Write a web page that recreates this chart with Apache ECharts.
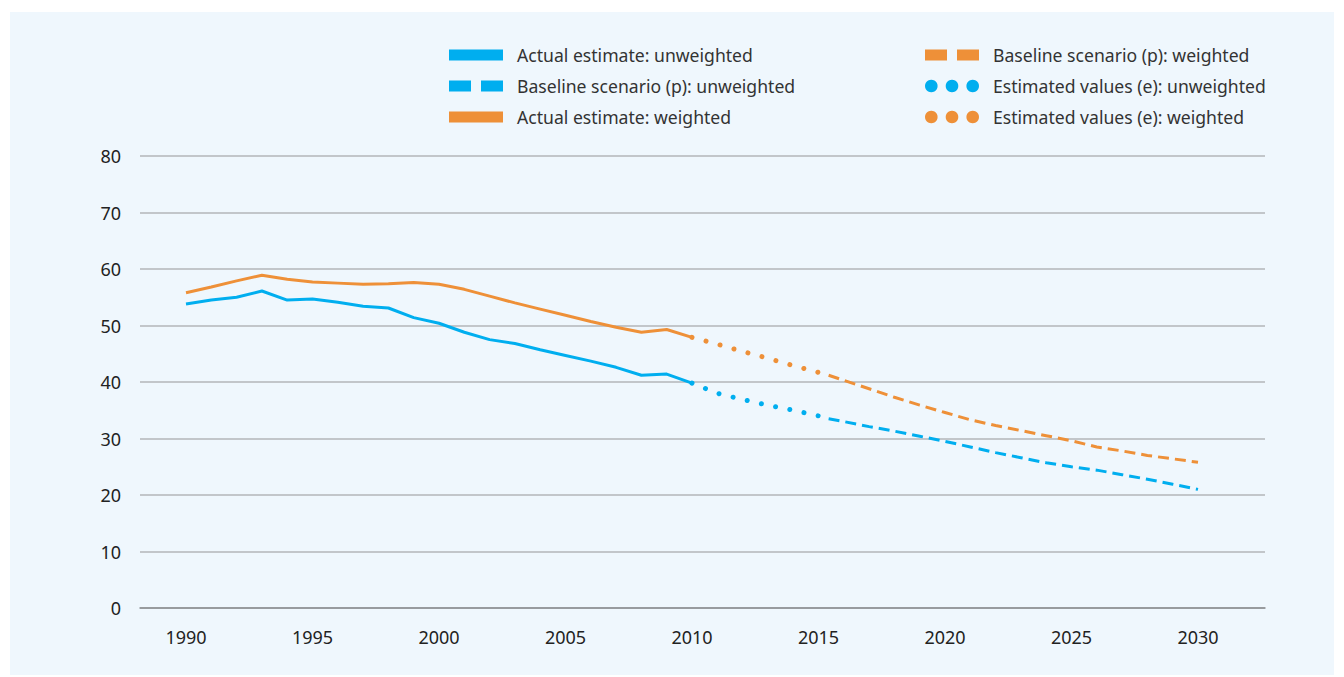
<!DOCTYPE html>
<html>
<head>
<meta charset="utf-8">
<title>Actual and baseline estimates</title>
<script src="https://cdn.jsdelivr.net/npm/echarts@6/dist/echarts.min.js"></script>
<style>
  html, body { margin: 0; padding: 0; background: #ffffff; }
  #panel { position: absolute; left: 10px; top: 12px; width: 1324px; height: 663px; background: #eff7fd; }
  #chart { position: absolute; left: 0; top: 0; width: 1344px; height: 677px; }
</style>
</head>
<body>
<div id="panel"></div>
<div id="chart"></div>
<script>
  // actual estimates 1990-2010
  const actualYears = [1990, 1991, 1992, 1993, 1994, 1995, 1996, 1997, 1998, 1999, 2000,
    2001, 2002, 2003, 2004, 2005, 2006, 2007, 2008, 2009, 2010];
  const actualUnweighted = [53.8, 54.5, 55.0, 56.1, 54.5, 54.7, 54.1, 53.4, 53.1, 51.4, 50.4,
    48.8, 47.5, 46.8, 45.7, 44.7, 43.7, 42.6, 41.2, 41.4, 39.8];
  const actualWeighted = [55.8, 56.8, 57.9, 58.9, 58.2, 57.7, 57.5, 57.3, 57.4, 57.6, 57.3,
    56.4, 55.2, 54.0, 52.9, 51.8, 50.7, 49.7, 48.8, 49.3, 47.9];

  // estimated values (e)
  const estYears = [2010, 2011, 2012, 2013, 2014, 2015, 2015.4];
  const estUnweighted = [39.8, 38.0, 36.9, 35.9, 35.0, 34.0, 33.5];
  const estWeighted = [47.9, 46.7, 45.4, 44.2, 42.9, 41.7, 41.2];

  // baseline scenario (p)
  const baseYears = [2015.4, 2016, 2017, 2018, 2019, 2020, 2021, 2022, 2023, 2024, 2025,
    2026, 2027, 2028, 2029, 2030];
  const baseUnweighted = [33.5, 33.0, 32.1, 31.3, 30.4, 29.5, 28.5, 27.5, 26.6, 25.7, 25.0,
    24.4, 23.6, 22.8, 21.9, 21.0];
  const baseWeighted = [41.2, 40.3, 38.8, 37.3, 35.9, 34.6, 33.3, 32.3, 31.4, 30.5, 29.6,
    28.5, 27.8, 27.0, 26.4, 25.8];

  const yTicks = [0, 10, 20, 30, 40, 50, 60, 70, 80];
  const xTicks = [1990, 1995, 2000, 2005, 2010, 2015, 2020, 2025, 2030];

  const BLUE = '#00aeef';
  const ORANGE = '#ee9038';
  const FONT = 'Noto Sans';

  const zip = (xs, ys) => xs.map((x, i) => [x, ys[i]]);

  // round dot as polygon so the icon bbox stays exact
  function dot(cx, cy, r) {
    let d = '';
    for (let i = 0; i < 24; i++) {
      const a = i / 24 * Math.PI * 2;
      d += (i ? 'L' : 'M') + (cx + r * Math.cos(a)).toFixed(2) + ',' + (cy + r * Math.sin(a)).toFixed(2);
    }
    return d + 'Z';
  }

  // legend icons
  const ICON_SOLID = 'path://M0,0H54V11H0Z';
  const ICON_DASH = 'path://M0,0H22V11H0Z M32,0H54V11H32Z';
  const ICON_DOTS = 'path://' + dot(6.3, 6.3, 6.3) + dot(27, 6.3, 6.3) + dot(47.7, 6.3, 6.3);

  const legendBase = {
    orient: 'vertical',
    top: 45,
    padding: 0,
    itemWidth: 54,
    itemHeight: 12.6,
    itemGap: 11,
    selectedMode: false,
    itemStyle: { borderWidth: 0 },
    textStyle: { fontFamily: FONT, fontSize: 17.6, color: '#333', lineHeight: 20, padding: [0, 0, 0, 9] }
  };

  const chart = echarts.init(document.getElementById('chart'), null, { renderer: 'svg' });

  chart.setOption({
    backgroundColor: 'transparent',
    animation: false,
    legend: [
      Object.assign({}, legendBase, {
        left: 449,
        data: [
          { name: 'Actual estimate: unweighted', icon: ICON_SOLID },
          { name: 'Baseline scenario (p): unweighted', icon: ICON_DASH },
          { name: 'Actual estimate: weighted', icon: ICON_SOLID }
        ]
      }),
      Object.assign({}, legendBase, {
        left: 925,
        data: [
          { name: 'Baseline scenario (p): weighted', icon: ICON_DASH },
          { name: 'Estimated values (e): unweighted', icon: ICON_DOTS },
          { name: 'Estimated values (e): weighted', icon: ICON_DOTS }
        ]
      })
    ],
    grid: [
      { left: 140, right: 79, top: 156, bottom: 69 },
      { left: 186, right: 146, top: 156, bottom: 69 }
    ],
    xAxis: [
      {
        gridIndex: 0, type: 'value', min: 0, max: 1,
        axisLine: { show: true, lineStyle: { color: '#8a8d90', width: 1.5 } },
        axisTick: { show: false }, axisLabel: { show: false }, splitLine: { show: false }
      },
      {
        gridIndex: 1, type: 'value', min: xTicks[0], max: xTicks[xTicks.length - 1], interval: 5,
        axisLine: { show: false }, axisTick: { show: false }, splitLine: { show: false },
        axisLabel: { margin: 20, fontFamily: FONT, fontSize: 18, color: '#222', formatter: v => String(v) }
      }
    ],
    yAxis: [
      {
        gridIndex: 0, type: 'value', min: yTicks[0], max: yTicks[yTicks.length - 1], interval: 10,
        axisLine: { show: false }, axisTick: { show: false },
        axisLabel: { margin: 19, fontFamily: FONT, fontSize: 18, color: '#222' },
        splitLine: { lineStyle: { color: '#b3b6b8', width: 1.5 } }
      },
      {
        gridIndex: 1, type: 'value', min: yTicks[0], max: yTicks[yTicks.length - 1],
        show: false, splitLine: { show: false }
      }
    ],
    series: [
      {
        name: 'Actual estimate: unweighted', type: 'line', xAxisIndex: 1, yAxisIndex: 1,
        data: zip(actualYears, actualUnweighted), showSymbol: false, color: BLUE,
        lineStyle: { width: 3, color: BLUE }
      },
      {
        name: 'Baseline scenario (p): unweighted', type: 'line', xAxisIndex: 1, yAxisIndex: 1,
        data: zip(baseYears, baseUnweighted), showSymbol: false, color: BLUE,
        lineStyle: { width: 3, color: BLUE, type: [11, 6] }
      },
      {
        name: 'Actual estimate: weighted', type: 'line', xAxisIndex: 1, yAxisIndex: 1,
        data: zip(actualYears, actualWeighted), showSymbol: false, color: ORANGE,
        lineStyle: { width: 3, color: ORANGE }
      },
      {
        name: 'Baseline scenario (p): weighted', type: 'line', xAxisIndex: 1, yAxisIndex: 1,
        data: zip(baseYears, baseWeighted), showSymbol: false, color: ORANGE,
        lineStyle: { width: 3, color: ORANGE, type: [11, 6] }
      },
      {
        name: 'Estimated values (e): unweighted', type: 'line', xAxisIndex: 1, yAxisIndex: 1,
        data: zip(estYears, estUnweighted), showSymbol: false, color: BLUE,
        lineStyle: { width: 5, color: BLUE, type: [0.01, 14.5], cap: 'round' }
      },
      {
        name: 'Estimated values (e): weighted', type: 'line', xAxisIndex: 1, yAxisIndex: 1,
        data: zip(estYears, estWeighted), showSymbol: false, color: ORANGE,
        lineStyle: { width: 5, color: ORANGE, type: [0.01, 14.5], cap: 'round' }
      }
    ]
  });
</script>
</body>
</html>
